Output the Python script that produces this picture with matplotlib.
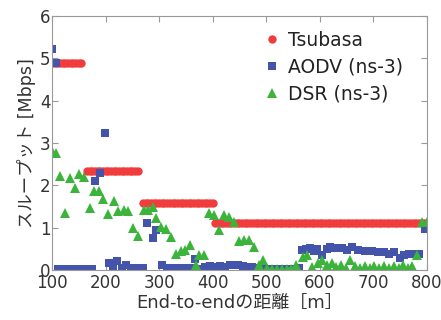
import numpy as np
import matplotlib
matplotlib.use("Agg")
import matplotlib.pyplot as plt

plt.rcParams['font.family'] = ['DejaVu Sans', 'Noto Sans CJK JP']

# Tsubasa: constant levels over distance ranges (5 m steps)
tsubasa_ranges = [(100, 155), (165, 260), (270, 400), (405, 800)]
tsubasa_levels = [4.9, 2.33, 1.58, 1.11]

aodv_x = [100, 107, 112, 121, 130, 139, 148, 157, 166, 175, 180, 189, 199, 206, 214,
          222, 230, 239, 247, 255, 263, 270, 278, 288, 294, 306, 315, 324, 333, 342,
          350, 358, 367, 376, 385, 395, 404, 414, 423, 432, 441, 448, 456, 464, 474,
          483, 492, 501, 510, 519, 528, 537, 546, 555, 561, 567, 575, 582, 589, 595,
          605, 614, 619, 629, 641, 650, 661, 672, 685, 697, 708, 719, 729, 738, 749,
          757, 766, 777, 786, 796]
aodv_y = [5.22, 4.90, 0.03, 0.03, 0.03, 0.03, 0.03, 0.03, 0.03, 0.03, 2.10, 2.29, 3.24, 0.16, 0.05,
          0.21, 0.05, 0.12, 0.05, 0.06, 0.04, 0.05, 1.10, 0.75, 0.95, 0.12, 0.05, 0.04, 0.05, 0.04,
          0.05, 0.05, 0.26, 0.03, 0.08, 0.10, 0.08, 0.10, 0.08, 0.12, 0.12, 0.13, 0.10, 0.08, 0.07,
          0.05, 0.04, 0.03, 0.03, 0.03, 0.03, 0.03, 0.03, 0.03, 0.06, 0.47, 0.49, 0.51, 0.45, 0.50,
          0.35, 0.50, 0.55, 0.51, 0.51, 0.47, 0.55, 0.47, 0.45, 0.45, 0.43, 0.42, 0.37, 0.43, 0.29,
          0.35, 0.37, 0.37, 0.39, 0.98]

dsr_x = [100, 108, 115, 125, 133, 143, 151, 160, 170, 178, 187, 196, 205, 215, 224,
         234, 242, 251, 260, 271, 280, 288, 295, 303, 312, 322, 331, 340, 348, 358,
         368, 374, 384, 393, 403, 412, 421, 430, 440, 449, 458, 468, 477, 486, 494,
         502, 511, 520, 529, 538, 547, 556, 569, 577, 586, 596, 605, 614, 622, 631,
         640, 649, 657, 666, 675, 684, 693, 702, 711, 720, 729, 738, 747, 756, 765,
         773, 782, 791, 800]
dsr_y = [2.82, 2.77, 2.23, 1.35, 2.18, 1.93, 2.28, 2.20, 1.47, 1.87, 1.87, 1.67, 1.32, 1.64, 1.39,
         1.43, 1.39, 1.00, 0.80, 1.42, 1.43, 1.48, 1.24, 1.02, 0.98, 0.77, 0.39, 0.46, 0.47, 0.59,
         0.12, 0.35, 0.35, 1.34, 1.30, 0.94, 1.30, 1.26, 1.14, 0.69, 0.72, 0.72, 0.55, 0.13, 0.24,
         0.05, 0.03, 0.03, 0.03, 0.03, 0.03, 0.12, 0.31, 0.35, 0.08, 0.16, 0.24, 0.12, 0.16, 0.08,
         0.12, 0.06, 0.24, 0.10, 0.06, 0.10, 0.06, 0.10, 0.05, 0.10, 0.06, 0.10, 0.06, 0.12, 0.06,
         0.10, 0.35, 1.14, 1.14]

tsubasa_x = np.concatenate([np.arange(a, b + 1, 5) for a, b in tsubasa_ranges])
tsubasa_y = np.concatenate([np.full(len(np.arange(a, b + 1, 5)), v)
                            for (a, b), v in zip(tsubasa_ranges, tsubasa_levels)])

fig = plt.figure(figsize=(4.41, 3.2), dpi=100)
ax = fig.add_axes([0.118, 0.156, 0.85, 0.794])

ax.plot(tsubasa_x, tsubasa_y, 'o', color='#f03c3c', markersize=6, markeredgewidth=0, label='Tsubasa')
ax.plot(aodv_x, aodv_y, 's', color='#4454aa', markersize=6, markeredgewidth=0, label='AODV (ns-3)')
ax.plot(dsr_x, dsr_y, '^', color='#3cb43c', markersize=7.5, markeredgewidth=0, label='DSR (ns-3)')

ax.set_xlim(100, 800)
ax.set_ylim(0, 6)
ax.set_xticks(range(100, 801, 100))
ax.set_yticks(range(0, 7))
ax.tick_params(direction='in', top=True, right=True, labelsize=12, colors='#333333',
               length=4, pad=1)
ax.tick_params(axis='x', pad=3)
ax.tick_params(color='#999999')
for s in ax.spines.values():
    s.set_color('#999999')

ax.set_xlabel('End-to-endの距離［m］', fontsize=13, color='#333333', labelpad=1)
ax.set_ylabel('スループット [Mbps]', fontsize=12.5, color='#333333', labelpad=3)

ax.legend(loc='upper right', bbox_to_anchor=(0.965, 0.985), frameon=False, fontsize=13.5,
          handletextpad=0.35, handlelength=1.0, labelspacing=0.42, borderaxespad=0.2,
          labelcolor='#222222')

fig.savefig('out.png', dpi=100)
